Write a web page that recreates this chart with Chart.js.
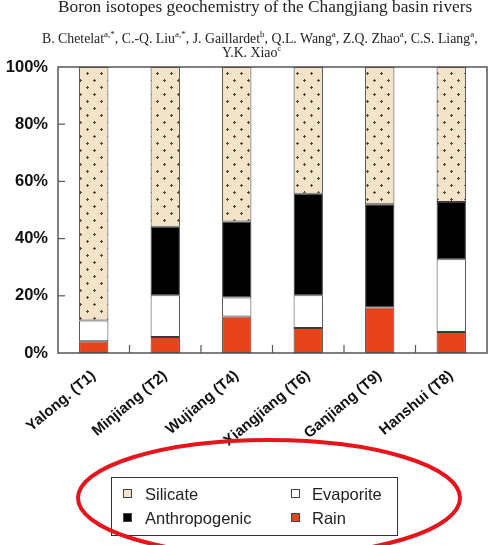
<!DOCTYPE html>
<html>
<head>
<meta charset="utf-8">
<script src="https://cdn.jsdelivr.net/npm/chart.js@4.4.1/dist/chart.umd.min.js"></script>
<style>
html,body{margin:0;padding:0;background:#fff;}
#wrap{position:relative;width:488px;height:545px;overflow:hidden;}
#c{position:absolute;left:0;top:0;}
.hdr{position:absolute;font-family:"Liberation Serif","DejaVu Serif",serif;color:#222;white-space:nowrap;line-height:1;}
.hdr sup{font-size:9px;vertical-align:6px;line-height:0;}
</style>
</head>
<body>
<div id="wrap">
  <canvas id="c" width="488" height="545"></canvas>
  <div class="hdr" style="left:58px;top:-2px;font-size:17.3px;">Boron isotopes geochemistry of the Changjiang basin rivers</div>
  <div class="hdr" style="left:42px;top:32px;font-size:13.8px;">B. Chetelat<sup>a,*</sup>, C.-Q. Liu<sup>a,*</sup>, J. Gaillardet<sup>b</sup>, Q.L. Wang<sup>a</sup>, Z.Q. Zhao<sup>a</sup>, C.S. Liang<sup>a</sup>,</div>
  <div class="hdr" style="left:222px;top:46px;font-size:13.8px;">Y.K. Xiao<sup>c</sup></div>
</div>
<script>
// values (% of dissolved boron), stacked bottom -> top
const categories = ['Yalong. (T1)', 'Minjiang (T2)', 'Wujiang (T4)', 'Xiangjiang (T6)', 'Ganjiang (T9)', 'Hanshui (T8)'];
const rain = [4.1, 5.6, 12.8, 8.7, 15.9, 7.3];
const evaporite = [7.3, 14.6, 6.6, 11.5, 0, 25.5];
const anthropogenic = [0, 23.9, 26.6, 35.5, 36.1, 20.0];
const silicate = [88.6, 55.9, 54.0, 44.3, 48.0, 47.2];
const yTicks = [0, 20, 40, 60, 80, 100];

const FONT = '"Liberation Sans", Arial, sans-serif';
const SIL = '#f3e3c8', RAIN = '#e8431c';

// dotted tan fill for the silicate part
function dotPattern(){
  const t = document.createElement('canvas');
  t.width = 14; t.height = 14;
  const g = t.getContext('2d');
  g.fillStyle = SIL; g.fillRect(0,0,14,14);
  g.fillStyle = '#4e4335';
  [[3,3],[10,10]].forEach(([x,y])=>{
    g.fillRect(x-1,y,3,1); g.fillRect(x,y-1,1,3);
  });
  return g.createPattern(t,'repeat');
}

const framePlugin = {
  id: 'frame',
  afterDatasetsDraw(chart){
    const {ctx, chartArea:a, scales} = chart;
    ctx.save();
    ctx.strokeStyle = '#555'; ctx.lineWidth = 1.5;
    ctx.strokeRect(a.left, a.top, a.right-a.left, a.bottom-a.top);
    ctx.lineWidth = 1.2;
    // inward y ticks
    yTicks.slice(1,-1).forEach(v=>{
      const y = scales.y.getPixelForValue(v);
      ctx.beginPath(); ctx.moveTo(a.left, y); ctx.lineTo(a.left+7, y); ctx.stroke();
    });
    // inward x ticks between categories
    for(let i=0;i<categories.length-1;i++){
      const x = (scales.x.getPixelForValue(i)+scales.x.getPixelForValue(i+1))/2;
      ctx.beginPath(); ctx.moveTo(x, a.bottom); ctx.lineTo(x, a.bottom-8); ctx.stroke();
    }
    ctx.restore();
  }
};

const legendPlugin = {
  id: 'boxLegend',
  afterDraw(chart){
    const ctx = chart.ctx;
    const ds = chart.data.datasets;
    const byLabel = l => ds.find(d=>d.label===l);
    const items = [
      [byLabel('Silicate'), 123, 145, 494],
      [byLabel('Evaporite'), 291, 312, 494],
      [byLabel('Anthropogenic'), 123, 145, 518],
      [byLabel('Rain'), 291, 312, 518]
    ];
    ctx.save();
    ctx.strokeStyle = '#333'; ctx.lineWidth = 1;
    ctx.strokeRect(111.5, 477.5, 286, 58);
    ctx.font = '16.5px ' + FONT;
    ctx.textBaseline = 'middle';
    items.forEach(([d, sx, tx, y])=>{
      ctx.fillStyle = d.label==='Silicate' ? SIL : d.backgroundColor;
      ctx.fillRect(sx, y-5, 9, 9);
      ctx.strokeStyle = '#444';
      ctx.strokeRect(sx+0.5, y-4.5, 8, 8);
      ctx.fillStyle = '#222';
      ctx.fillText(d.label, tx, y+1);
    });
    // red ellipse around the legend
    ctx.strokeStyle = '#e8141c'; ctx.lineWidth = 4;
    ctx.beginPath(); ctx.ellipse(269, 498, 191, 58, 0, 0, Math.PI*2); ctx.stroke();
    ctx.restore();
  }
};

const mk = (label, data, bg) => ({
  label, data, backgroundColor: bg, borderColor: '#3a3a3a', borderWidth: 1,
  borderSkipped: false, barPercentage: 0.41, categoryPercentage: 1
});

new Chart(document.getElementById('c'), {
  type: 'bar',
  data: {
    labels: categories,
    datasets: [
      mk('Rain', rain, RAIN),
      mk('Evaporite', evaporite, '#ffffff'),
      mk('Anthropogenic', anthropogenic, '#000000'),
      mk('Silicate', silicate, dotPattern())
    ]
  },
  options: {
    responsive: false, animation: false,
    layout: { padding: { top: 67, right: 1, left: 0, bottom: 0 } },
    plugins: { legend: { display: false }, tooltip: { enabled: false } },
    scales: {
      x: {
        stacked: true,
        grid: { display: false },
        border: { display: false },
        ticks: { font: { family: FONT, size: 15, weight: 'bold' }, color: '#111', minRotation: 40, maxRotation: 40, padding: 6 },
        afterFit(s){ s.height = 192; }
      },
      y: {
        stacked: true, min: 0, max: 100,
        grid: { display: false, drawTicks: false },
        border: { display: false },
        ticks: { stepSize: 20, padding: 10, font: { family: FONT, size: 16.5, weight: 'bold' }, color: '#111', callback: v => v + '%' },
        afterFit(s){ s.width = 58; }
      }
    }
  },
  plugins: [framePlugin, legendPlugin]
});
</script>
</body>
</html>
